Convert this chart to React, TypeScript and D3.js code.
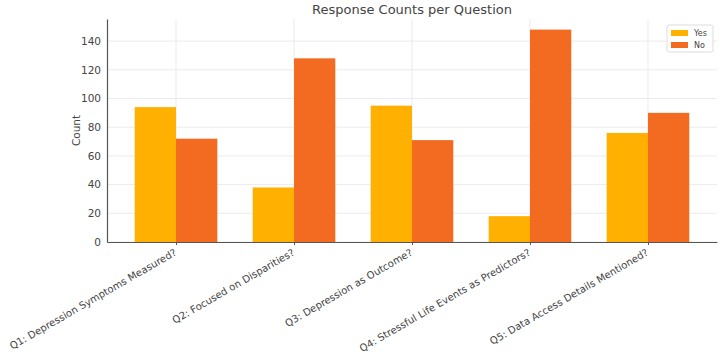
import * as d3 from 'd3';
import React, { useRef, useEffect } from 'react';

const questions = [
  'Q1: Depression Symptoms Measured?',
  'Q2: Focused on Disparities?',
  'Q3: Depression as Outcome?',
  'Q4: Stressful Life Events as Predictors?',
  'Q5: Data Access Details Mentioned?',
];
const yesCounts = [94, 38, 95, 18, 76];
const noCounts = [72, 128, 71, 148, 90];
const yTicks = [0, 20, 40, 60, 80, 100, 120, 140];
const seriesNames = ['Yes', 'No'];
const seriesColors = ['#ffb000', '#f26b21'];

const W = 720;
const H = 354;
const FONT = '"DejaVu Sans", sans-serif';

function App() {
  const ref = useRef<SVGSVGElement>(null);

  useEffect(() => {
    const svg = d3.select(ref.current);
    svg.selectAll('*').remove();

    const left = 107, right = 717, top = 19, bottom = 242;
    const barW = 0.35;
    const maxVal = d3.max(noCounts.concat(yesCounts)) as number;

    const x = d3
      .scaleLinear()
      .domain([-0.585, questions.length - 1 + 0.585])
      .range([left, right]);
    const y = d3
      .scaleLinear()
      .domain([0, maxVal * 1.05])
      .range([bottom, top]);

    // grid
    const grid = svg.append('g');
    grid
      .selectAll('line.h')
      .data(yTicks)
      .enter()
      .append('line')
      .attr('x1', left)
      .attr('x2', right)
      .attr('y1', d => y(d))
      .attr('y2', d => y(d))
      .attr('stroke', '#e6e6e6')
      .attr('stroke-width', 0.8);
    grid
      .selectAll('line.v')
      .data(questions)
      .enter()
      .append('line')
      .attr('x1', (d, i) => x(i))
      .attr('x2', (d, i) => x(i))
      .attr('y1', top)
      .attr('y2', bottom)
      .attr('stroke', '#e6e6e6')
      .attr('stroke-width', 0.8);

    // bars
    const series = [yesCounts, noCounts];
    series.forEach((vals, s) => {
      svg
        .append('g')
        .selectAll('rect')
        .data(vals)
        .enter()
        .append('rect')
        .attr('x', (d, i) => x(i + (s === 0 ? -barW : 0)))
        .attr('width', x(barW) - x(0))
        .attr('y', d => y(d))
        .attr('height', d => bottom - y(d))
        .attr('fill', seriesColors[s]);
    });

    // y axis
    const yAxis = d3
      .axisLeft(y)
      .tickValues(yTicks)
      .tickSize(0)
      .tickPadding(6);
    const gy = svg
      .append('g')
      .attr('transform', `translate(${left},0)`)
      .call(yAxis);
    gy.select('.domain').attr('stroke', '#555').attr('stroke-width', 1.2);
    gy.selectAll('text')
      .attr('font-family', FONT)
      .attr('font-size', 10.5)
      .attr('fill', '#444');

    // x axis
    const xAxis = d3
      .axisBottom(x)
      .tickValues(d3.range(questions.length))
      .tickFormat((d: any) => questions[d])
      .tickSize(3)
      .tickSizeOuter(0);
    const gx = svg
      .append('g')
      .attr('transform', `translate(0,${bottom})`)
      .call(xAxis);
    gx.select('.domain').attr('stroke', '#555').attr('stroke-width', 1.2);
    gx.selectAll('.tick line').attr('stroke', '#555');
    gx.selectAll('text')
      .attr('font-family', FONT)
      .attr('font-size', 10)
      .attr('fill', '#444')
      .attr('text-anchor', 'end')
      .attr('dy', '0.75em')
      .attr('y', 0)
      .attr('transform', 'translate(-3,6) rotate(-30)');

    // y label
    svg
      .append('text')
      .attr('transform', `translate(80,${(top + bottom) / 2}) rotate(-90)`)
      .attr('text-anchor', 'middle')
      .attr('font-family', FONT)
      .attr('font-size', 10.5)
      .attr('fill', '#444')
      .text('Count');

    // title
    svg
      .append('text')
      .attr('x', (left + right) / 2)
      .attr('y', 14)
      .attr('text-anchor', 'middle')
      .attr('font-family', FONT)
      .attr('font-size', 13)
      .attr('fill', '#444')
      .text('Response Counts per Question');

    // legend
    const lg = svg.append('g').attr('transform', 'translate(667,25)');
    lg.append('rect')
      .attr('width', 46)
      .attr('height', 27)
      .attr('rx', 2)
      .attr('fill', 'white')
      .attr('stroke', '#ddd');
    seriesNames.forEach((name, i) => {
      lg.append('rect')
        .attr('x', 4)
        .attr('y', 5 + i * 12)
        .attr('width', 17)
        .attr('height', 6)
        .attr('fill', seriesColors[i]);
      lg.append('text')
        .attr('x', 27)
        .attr('y', 11 + i * 12)
        .attr('font-family', FONT)
        .attr('font-size', 8)
        .attr('fill', '#444')
        .text(name);
    });
  }, []);

  return (
    <svg
      ref={ref}
      width={W}
      height={H}
      style={{ position: 'absolute', left: 0, top: 0, background: 'white' }}
    />
  );
}

export default App;
